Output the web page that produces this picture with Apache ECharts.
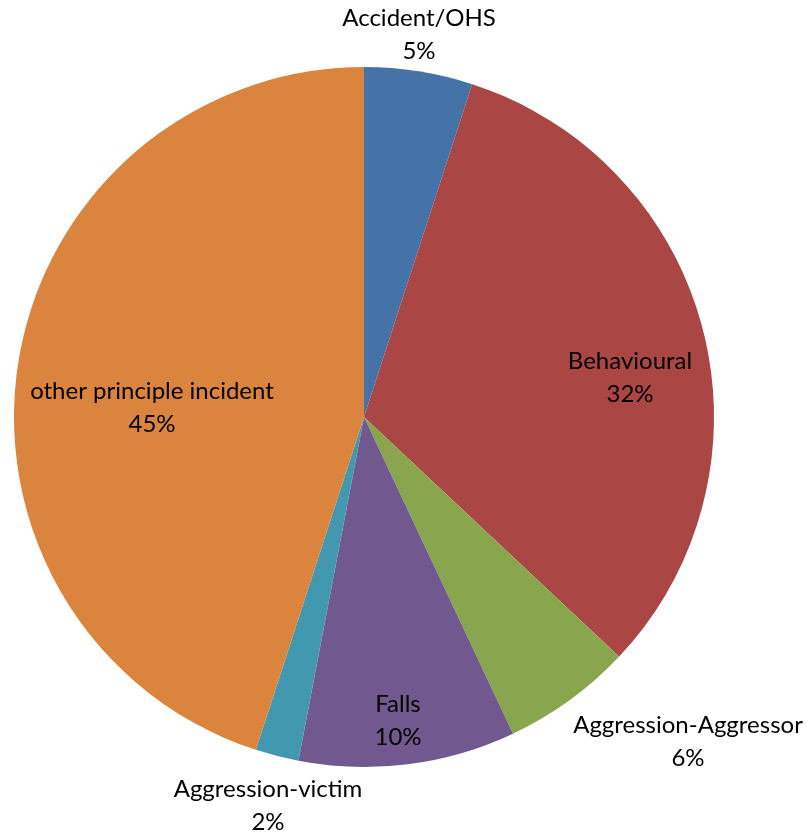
<!DOCTYPE html>
<html>
<head>
<meta charset="utf-8">
<script src="https://cdn.jsdelivr.net/npm/echarts@6/dist/echarts.min.js"></script>
<style>
  html, body { margin: 0; padding: 0; background: #ffffff; }
  #chart { width: 810px; height: 835px; }
</style>
</head>
<body>
<div id="chart"></div>
<script>
// Incident categories and their share of all reported incidents (%)
const categories = [
  'Accident/OHS',
  'Behavioural',
  'Aggression-Aggressor',
  'Falls',
  'Aggression-victim',
  'other principle incident'
];
const shares = [5, 32, 6, 10, 2, 45];

// Slice colours, in category order
const sliceColors = ['#4572A7', '#AA4643', '#89A54E', '#71588F', '#4198AF', '#DB843D'];

// Where each two-line label block is centred (pixels)
const labelSpots = [[419, 35], [630, 378], [688, 742], [398, 721], [268, 806], [152, 408]];

const chart = echarts.init(document.getElementById('chart'), null, { renderer: 'canvas' });

chart.setOption({
  animation: false,
  backgroundColor: '#ffffff',
  color: sliceColors,
  series: [{
    type: 'pie',
    center: [364, 417],
    radius: [0, 350],
    startAngle: 90,
    clockwise: true,
    avoidLabelOverlap: false,
    silent: true,
    itemStyle: { borderWidth: 0 },
    label: {
      show: true,
      position: 'inside',
      color: '#000000',
      fontFamily: 'Lato, "Open Sans", sans-serif',
      fontSize: 24,
      lineHeight: 33,
      align: 'center',
      formatter: function (p) {
        return p.name + '\n' + Math.round(p.percent) + '%';
      }
    },
    labelLine: { show: false },
    labelLayout: function (params) {
      const spot = labelSpots[params.dataIndex];
      return { x: spot[0], y: spot[1], align: 'center', verticalAlign: 'middle' };
    },
    data: categories.map(function (name, i) {
      return { name: name, value: shares[i] };
    })
  }]
});
</script>
</body>
</html>
